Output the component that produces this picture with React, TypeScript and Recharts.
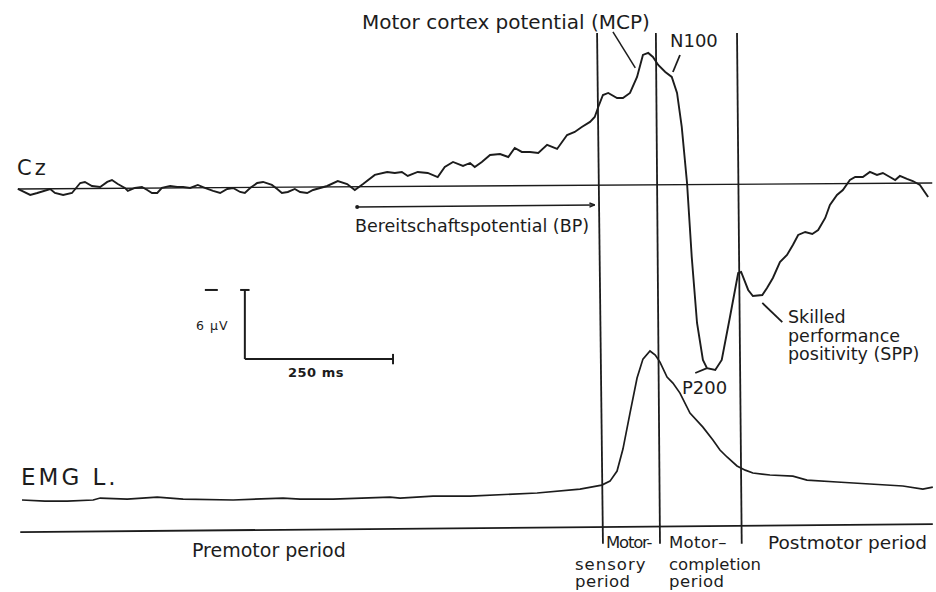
import React from 'react';
import { LineChart, Line, XAxis, YAxis, ReferenceLine, ReferenceDot } from 'recharts';

const W = 936;
const H = 592;

// Cz trace: ms from movement onset, µV (negative drawn upward)
const czTime = [
  -990, -969, -957, -935, -927, -913, -898, -884, -876, -864, -850, -838, -830, -820, -808, -803,
  -791, -779, -770, -762, -753, -745, -731, -719, -709, -697, -684, -672, -658, -646, -634, -624,
  -612, -604, -595, -583, -573, -558, -549, -541, -531, -519, -510, -498, -488, -464, -446, -430,
  -417, -403, -383, -362, -349, -337, -327, -310, -293, -276, -264, -250, -233, -221, -213, -201,
  -187, -170, -156, -145, -133, -119, -105, -90, -73, -56, -43, -31, -17, -9, -3, 5,
  14, 29, 39, 51, 63, 73, 82, 90, 99, 111, 122, 131, 139, 148, 156, 165,
  175, 182, 196, 207, 221, 235, 240, 252, 260, 276, 284, 294, 306, 318, 328, 337,
  349, 361, 371, 383, 391, 403, 413, 425, 434, 447, 459, 471, 481, 493, 502, 510,
  522, 532, 544, 558,
];
const czMicroV = [
  0.26, 0.78, 0.61, 0.26, 0.61, 0.78, 0.61, -0.26, -0.35, 0, 0.09, -0.35, -0.52, -0.17, 0.17, 0.43,
  0.17, 0.09, 0.35, 0.61, 0.61, 0.17, 0, 0.09, 0.09, 0.17, -0.09, 0.17, 0.43, 0.61, 0.26, 0.17,
  0.52, 0.61, 0.17, -0.26, -0.35, -0.09, 0.26, 0.61, 0.52, 0.26, 0.52, 0.61, 0.35, 0, -0.43, -0.17,
  0.35, -0.17, -0.96, -1.22, -1.13, -1.22, -0.87, -1.22, -1.13, -0.78, -1.65, -2.09, -1.74, -2.0, -1.65, -2.09,
  -2.7, -2.78, -2.52, -3.3, -2.96, -2.96, -2.87, -3.57, -3.22, -4.43, -4.7, -5.13, -5.57, -6.0, -6.87, -7.91,
  -8.09, -7.65, -7.65, -8.09, -9.48, -11.39, -11.57, -11.22, -10.52, -9.91, -9.48, -8.09, -5.13, -0.26, 6.17, 11.91,
  15.13, 15.83, 16.0, 15.13, 11.39, 7.57, 7.48, 9.04, 9.57, 9.48, 8.87, 8.0, 6.61, 6.0, 5.13, 4.26,
  4.0, 4.17, 3.83, 2.78, 1.65, 0.78, 0.35, -0.52, -0.78, -0.78, -1.22, -0.96, -1.13, -0.78, -0.52, -0.87,
  -0.61, -0.43, -0.09, 0.96,
];

// EMG L. (rectified, arbitrary units)
const emgTime = [
  -983, -944, -906, -862, -850, -804, -753, -709, -624, -539, -510, -454, -357, -340, -284, -221,
  -107, -34, 3, 17, 29, 39, 51, 63, 73, 85, 94, 102, 114, 124, 136, 153,
  175, 192, 204, 216, 233, 247, 260, 289, 328, 352, 403, 459, 515, 549, 566,
];
const emgLevel = [
  17.8, 17.2, 17.2, 17.8, 18.9, 18.3, 19.4, 18.3, 17.8, 18.9, 18.3, 18.3, 19.4, 18.9, 20.0, 20.0,
  21.7, 23.9, 26.1, 28.3, 33.9, 46.1, 66.1, 85.6, 96.1, 100.6, 98.3, 94.4, 86.1, 82.8, 77.2, 66.1,
  58.3, 51.1, 45.6, 41.7, 36.7, 34.4, 32.8, 31.7, 31.1, 28.9, 27.8, 26.7, 25.6, 23.9, 25.0,
];

// period boundaries (ms), slightly tilted in the scan: top / bottom
const periodTop = [-5, 95, 233];
const periodBottom = [5, 102, 241];

const czData = czTime.map((t, i) => ({ t, v: czMicroV[i] }));
const emgData = emgTime.map((t, i) => ({ t, e: emgLevel[i] }));

const INK = '#1c1c1c';

function Note({ x, y, size, spacing = 0, bold = false, children }: any) {
  return (
    <div
      style={{
        position: 'absolute',
        left: x,
        top: y,
        fontSize: size,
        letterSpacing: spacing,
        fontWeight: bold ? 700 : 400,
        lineHeight: 1,
        whiteSpace: 'pre',
        transform: 'translateY(-50%)',
      }}
    >
      {children}
    </div>
  );
}

export default function App() {
  return (
    <div
      style={{
        position: 'absolute',
        left: 0,
        top: 0,
        width: W,
        height: H,
        background: '#fff',
        color: INK,
        fontFamily: '"DejaVu Sans", sans-serif',
      }}
    >
      <LineChart width={W} height={H} margin={{ top: 0, right: 0, bottom: 0, left: 0 }}>
        <XAxis type="number" dataKey="t" domain={[-1020.4, 571.4]} hide allowDataOverflow />
        <YAxis yAxisId="cz" type="number" domain={[-16.17, 35.3]} reversed hide allowDataOverflow />
        <YAxis yAxisId="emg" type="number" domain={[-33.3, 295.6]} hide allowDataOverflow />

        {/* Cz baseline and EMG time line */}
        <ReferenceLine yAxisId="cz" segment={[{ x: -990, y: 0.26 }, { x: 565, y: -0.26 }]} stroke={INK} strokeWidth={1.3} />
        <ReferenceLine yAxisId="emg" segment={[{ x: -986, y: 0 }, { x: 566, y: 4.4 }]} stroke={INK} strokeWidth={1.8} />

        {periodTop.map((t, i) => (
          <ReferenceLine
            key={i}
            yAxisId="cz"
            segment={[{ x: t, y: -13.3 }, { x: periodBottom[i], y: 31.1 }]}
            stroke={INK}
            strokeWidth={1.8}
          />
        ))}

        {/* Bereitschaftspotential span */}
        <ReferenceLine yAxisId="cz" segment={[{ x: -413, y: 1.83 }, { x: -9, y: 1.65 }]} stroke={INK} strokeWidth={1.6} />
        <ReferenceLine yAxisId="cz" segment={[{ x: -18, y: 1.48 }, { x: -9, y: 1.65 }]} stroke={INK} strokeWidth={1.4} />
        <ReferenceLine yAxisId="cz" segment={[{ x: -18, y: 1.83 }, { x: -9, y: 1.65 }]} stroke={INK} strokeWidth={1.4} />
        <ReferenceDot yAxisId="cz" x={-413} y={1.83} r={2} fill={INK} stroke="none" />

        {/* calibration: 6 µV / 250 ms */}
        <ReferenceLine yAxisId="cz" segment={[{ x: -604, y: 9.04 }, { x: -604, y: 15.04 }]} stroke={INK} strokeWidth={2} />
        <ReferenceLine yAxisId="cz" segment={[{ x: -604, y: 15.04 }, { x: -352, y: 15.04 }]} stroke={INK} strokeWidth={2} />
        <ReferenceLine yAxisId="cz" segment={[{ x: -612, y: 9.04 }, { x: -596, y: 9.04 }]} stroke={INK} strokeWidth={2} />
        <ReferenceLine yAxisId="cz" segment={[{ x: -352, y: 14.6 }, { x: -352, y: 15.5 }]} stroke={INK} strokeWidth={2} />
        <ReferenceLine yAxisId="cz" segment={[{ x: -672, y: 9.04 }, { x: -650, y: 9.04 }]} stroke={INK} strokeWidth={2} />

        {/* leaders */}
        <ReferenceLine yAxisId="cz" segment={[{ x: 22, y: -13.39 }, { x: 60, y: -10.26 }]} stroke={INK} strokeWidth={1.5} />
        <ReferenceLine yAxisId="cz" segment={[{ x: 136, y: -11.39 }, { x: 124, y: -9.91 }]} stroke={INK} strokeWidth={1.8} />
        <ReferenceLine yAxisId="cz" segment={[{ x: 162, y: 16.26 }, { x: 182, y: 15.83 }]} stroke={INK} strokeWidth={1.8} />
        <ReferenceLine yAxisId="cz" segment={[{ x: 276, y: 10.17 }, { x: 310, y: 11.83 }]} stroke={INK} strokeWidth={1.8} />

        <Line data={czData} dataKey="v" yAxisId="cz" type="linear" dot={false} activeDot={false} legendType="none" stroke={INK} strokeWidth={1.9} isAnimationActive={false} />
        <Line data={emgData} dataKey="e" yAxisId="emg" type="linear" dot={false} activeDot={false} legendType="none" stroke={INK} strokeWidth={1.7} isAnimationActive={false} />
      </LineChart>

      <Note x={362} y={22} size={20}>Motor cortex potential (MCP)</Note>
      <Note x={670} y={41} size={18}>N100</Note>
      <Note x={17} y={168} size={21} spacing={3}>Cz</Note>
      <Note x={355} y={227} size={17.5}>Bereitschaftspotential (BP)</Note>
      <Note x={196} y={326} size={12.5} spacing={1}>6 µV</Note>
      <Note x={288} y={372} size={13} bold spacing={0.5}>250 ms</Note>
      <Note x={788} y={318} size={17.5}>Skilled</Note>
      <Note x={788} y={336.5} size={17.5}>performance</Note>
      <Note x={788} y={355} size={17.5}>positivity (SPP)</Note>
      <Note x={682} y={388} size={18}>P200</Note>
      <Note x={21} y={477} size={23} spacing={3}>EMG L.</Note>
      <Note x={192} y={550} size={19}>Premotor period</Note>
      <Note x={606} y={543} size={16.5} spacing={-1.2}>Motor-</Note>
      <Note x={575} y={564.5} size={16.5} spacing={1}>sensory</Note>
      <Note x={575} y={582} size={16.5} spacing={0.5}>period</Note>
      <Note x={669} y={543} size={16.5} spacing={0.3}>Motor–</Note>
      <Note x={669} y={564.5} size={16.5}>completion</Note>
      <Note x={669} y={582} size={16.5} spacing={0.5}>period</Note>
      <Note x={768} y={543} size={18.5}>Postmotor period</Note>
    </div>
  );
}
